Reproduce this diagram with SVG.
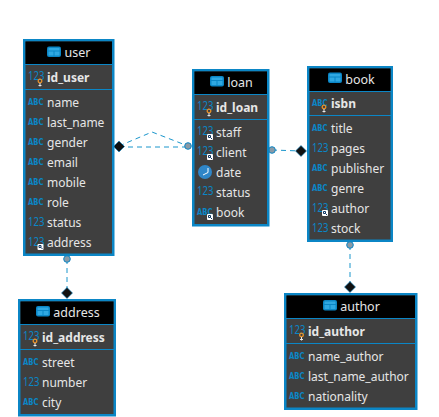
<svg xmlns="http://www.w3.org/2000/svg" width="439" height="417" viewBox="0 0 439 417">
<style>
.box{fill:#3f3f3f;stroke:#0b86c6;stroke-width:2.5}
.head{fill:#000}
.sep{stroke:#0b86c6;stroke-width:1}
text{font-family:"Noto Sans","Open Sans","DejaVu Sans",sans-serif;font-size:12px;fill:#e6e6e6}
.title{font-size:12.5px;text-anchor:middle}
.pk{font-weight:700}
.n{font-size:12px;fill:#0b86c6;transform-box:fill-box;transform-origin:0 50%;transform:scaleX(.8)}
.s{font-family:"DejaVu Sans",sans-serif;font-size:9.5px;font-weight:700;fill:#0b86c6;transform-box:fill-box;transform-origin:0 50%;transform:scaleX(.72)}
.conn{fill:none;stroke:#1a96cc;stroke-width:1;stroke-dasharray:5 4}
.dk{fill:#111;stroke:#0b86c6;stroke-width:.6}
.ci{fill:#8a9aa6;stroke:#0b86c6;stroke-width:1}
</style>
<defs>
<g id="tbl"><rect x="0" y="0" width="14" height="10.500" rx="2" fill="#0b86c6"/><rect x="1.500" y="5" width="5" height="4" fill="#2fa8e2"/><rect x="7.500" y="5" width="5" height="4" fill="#2fa8e2"/><rect x="1.500" y="1.500" width="11" height="2.500" fill="#2fa8e2"/></g>
<g id="key"><circle cx="0" cy="0" r="1.800" fill="none" stroke="#e8912a" stroke-width="1.300"/><path d="M0 2V5.500M-1.500 4.500H1.500" stroke="#e8e8e8" stroke-width="1"/></g>
<g id="fk"><rect x="0" y="0" width="6" height="6" rx="1" fill="#fff"/><path d="M1.500 1.500h2v2h-2zM3.500 3.500L5 5" fill="none" stroke="#123a66" stroke-width="1"/></g>
</defs>
<g id="connectors">
<path class="conn" d="M119 147H188"/>
<path class="conn" d="M119 146L152 132L188 146"/>
<path class="conn" d="M272 150L301 151"/>
<path class="conn" d="M67 259V293"/>
<path class="conn" d="M350 245V287"/>
<circle class="ci" cx="188" cy="146" r="3.300"/>
<circle class="ci" cx="272" cy="150" r="3.300"/>
<circle class="ci" cx="67" cy="259" r="3.300"/>
<circle class="ci" cx="350" cy="245" r="3.300"/>
<path class="dk" d="M119 141L124.500 146.500L119 152L113.500 146.500Z"/>
<path class="dk" d="M301 145.500L306.500 151L301 156.500L295.500 151Z"/>
<path class="dk" d="M67 287.500L72.500 293L67 298.500L61.500 293Z"/>
<path class="dk" d="M350 281.500L355.500 287L350 292.500L344.500 287Z"/>
</g>
<g id="user">
<rect class="box" x="24.250" y="40.250" width="89" height="214.500"/>
<rect class="head" x="25.500" y="41.500" width="86.500" height="22.500"/>
<path class="sep" d="M25 64.500H112M25 89.500H112"/>
<use href="#tbl" x="47" y="46.500"/>
<text class="title" x="77.500" y="57">user</text>
<text class="n" x="28" y="80">123</text><use href="#key" x="40" y="81"/>
<text class="pk" x="47" y="82">id_user</text>
<text class="s" x="28" y="105">ABC</text><text x="47" y="107">name</text>
<text class="s" x="28" y="125">ABC</text><text x="47" y="127">last_name</text>
<text class="s" x="28" y="145">ABC</text><text x="47" y="147">gender</text>
<text class="s" x="28" y="165">ABC</text><text x="47" y="167">email</text>
<text class="s" x="28" y="185">ABC</text><text x="47" y="187">mobile</text>
<text class="s" x="28" y="205">ABC</text><text x="47" y="207">role</text>
<text class="n" x="28" y="226">123</text><text x="47" y="227">status</text>
<text class="n" x="28" y="246">123</text><use href="#fk" x="37.500" y="244"/><text x="47" y="247">address</text>
</g>
<g id="loan">
<rect class="box" x="193.250" y="70.250" width="75" height="155"/>
<rect class="head" x="194.500" y="71.500" width="72.500" height="22.500"/>
<path class="sep" d="M194 94.500H267M194 119.500H267"/>
<use href="#tbl" x="210" y="76"/>
<text class="title" x="240" y="87">loan</text>
<text class="n" x="197" y="110">123</text><use href="#key" x="209" y="111"/>
<text class="pk" x="216" y="112">id_loan</text>
<text class="n" x="197" y="135">123</text><use href="#fk" x="207" y="134"/><text x="216" y="137">staff</text>
<text class="n" x="197" y="155">123</text><use href="#fk" x="207" y="154"/><text x="216" y="157">client</text>
<circle cx="205" cy="172" r="7" fill="#2f86c8"/><path d="M208 168V172.500L203 175" fill="none" stroke="#fff" stroke-width="1"/>
<text x="216" y="177">date</text>
<text class="n" x="197" y="195">123</text><text x="216" y="197">status</text>
<text class="s" x="197" y="215">ABC</text><use href="#fk" x="207" y="214"/><text x="216" y="217">book</text>
</g>
<g id="book">
<rect class="box" x="308.250" y="67.250" width="83.500" height="173.500"/>
<rect class="head" x="309.500" y="68.500" width="81" height="22.500"/>
<path class="sep" d="M309 91.500H391M309 115.500H391"/>
<use href="#tbl" x="328" y="72.500"/>
<text class="title" x="360" y="84">book</text>
<text class="s" x="312" y="106">ABC</text><use href="#key" x="324" y="107"/>
<text class="pk" x="331" y="108">isbn</text>
<text class="s" x="312" y="131">ABC</text><text x="331" y="133">title</text>
<text class="n" x="312" y="152">123</text><text x="331" y="153">pages</text>
<text class="s" x="312" y="171">ABC</text><text x="331" y="173">publisher</text>
<text class="s" x="312" y="191">ABC</text><text x="331" y="193">genre</text>
<text class="n" x="312" y="212">123</text><use href="#fk" x="322" y="210"/><text x="331" y="213">author</text>
<text class="n" x="312" y="232">123</text><text x="331" y="233">stock</text>
</g>
<g id="address">
<rect class="box" x="19.250" y="300.250" width="95.500" height="115"/>
<rect class="head" x="20.500" y="301.500" width="93" height="22.500"/>
<path class="sep" d="M20 324.500H114M20 349.500H114"/>
<use href="#tbl" x="36" y="306"/>
<text class="title" x="76.500" y="317">address</text>
<text class="n" x="23" y="340">123</text><use href="#key" x="35" y="341"/>
<text class="pk" x="42" y="342">id_address</text>
<text class="s" x="23" y="365">ABC</text><text x="42" y="367">street</text>
<text class="n" x="23" y="386">123</text><text x="42" y="387">number</text>
<text class="s" x="23" y="405">ABC</text><text x="42" y="407">city</text>
</g>
<g id="author">
<rect class="box" x="285.250" y="294.250" width="131" height="114.500"/>
<rect class="head" x="286.500" y="295.500" width="128.500" height="22.500"/>
<path class="sep" d="M286 318.500H415M286 343.500H415"/>
<use href="#tbl" x="323" y="300"/>
<text class="title" x="360" y="311">author</text>
<text class="n" x="289" y="334">123</text><use href="#key" x="301.500" y="335"/>
<text class="pk" x="308" y="336">id_author</text>
<text class="s" x="289" y="359">ABC</text><text x="308" y="361">name_author</text>
<text class="s" x="289" y="379">ABC</text><text x="308" y="381">last_name_author</text>
<text class="s" x="289" y="399">ABC</text><text x="308" y="401">nationality</text>
</g>
</svg>
